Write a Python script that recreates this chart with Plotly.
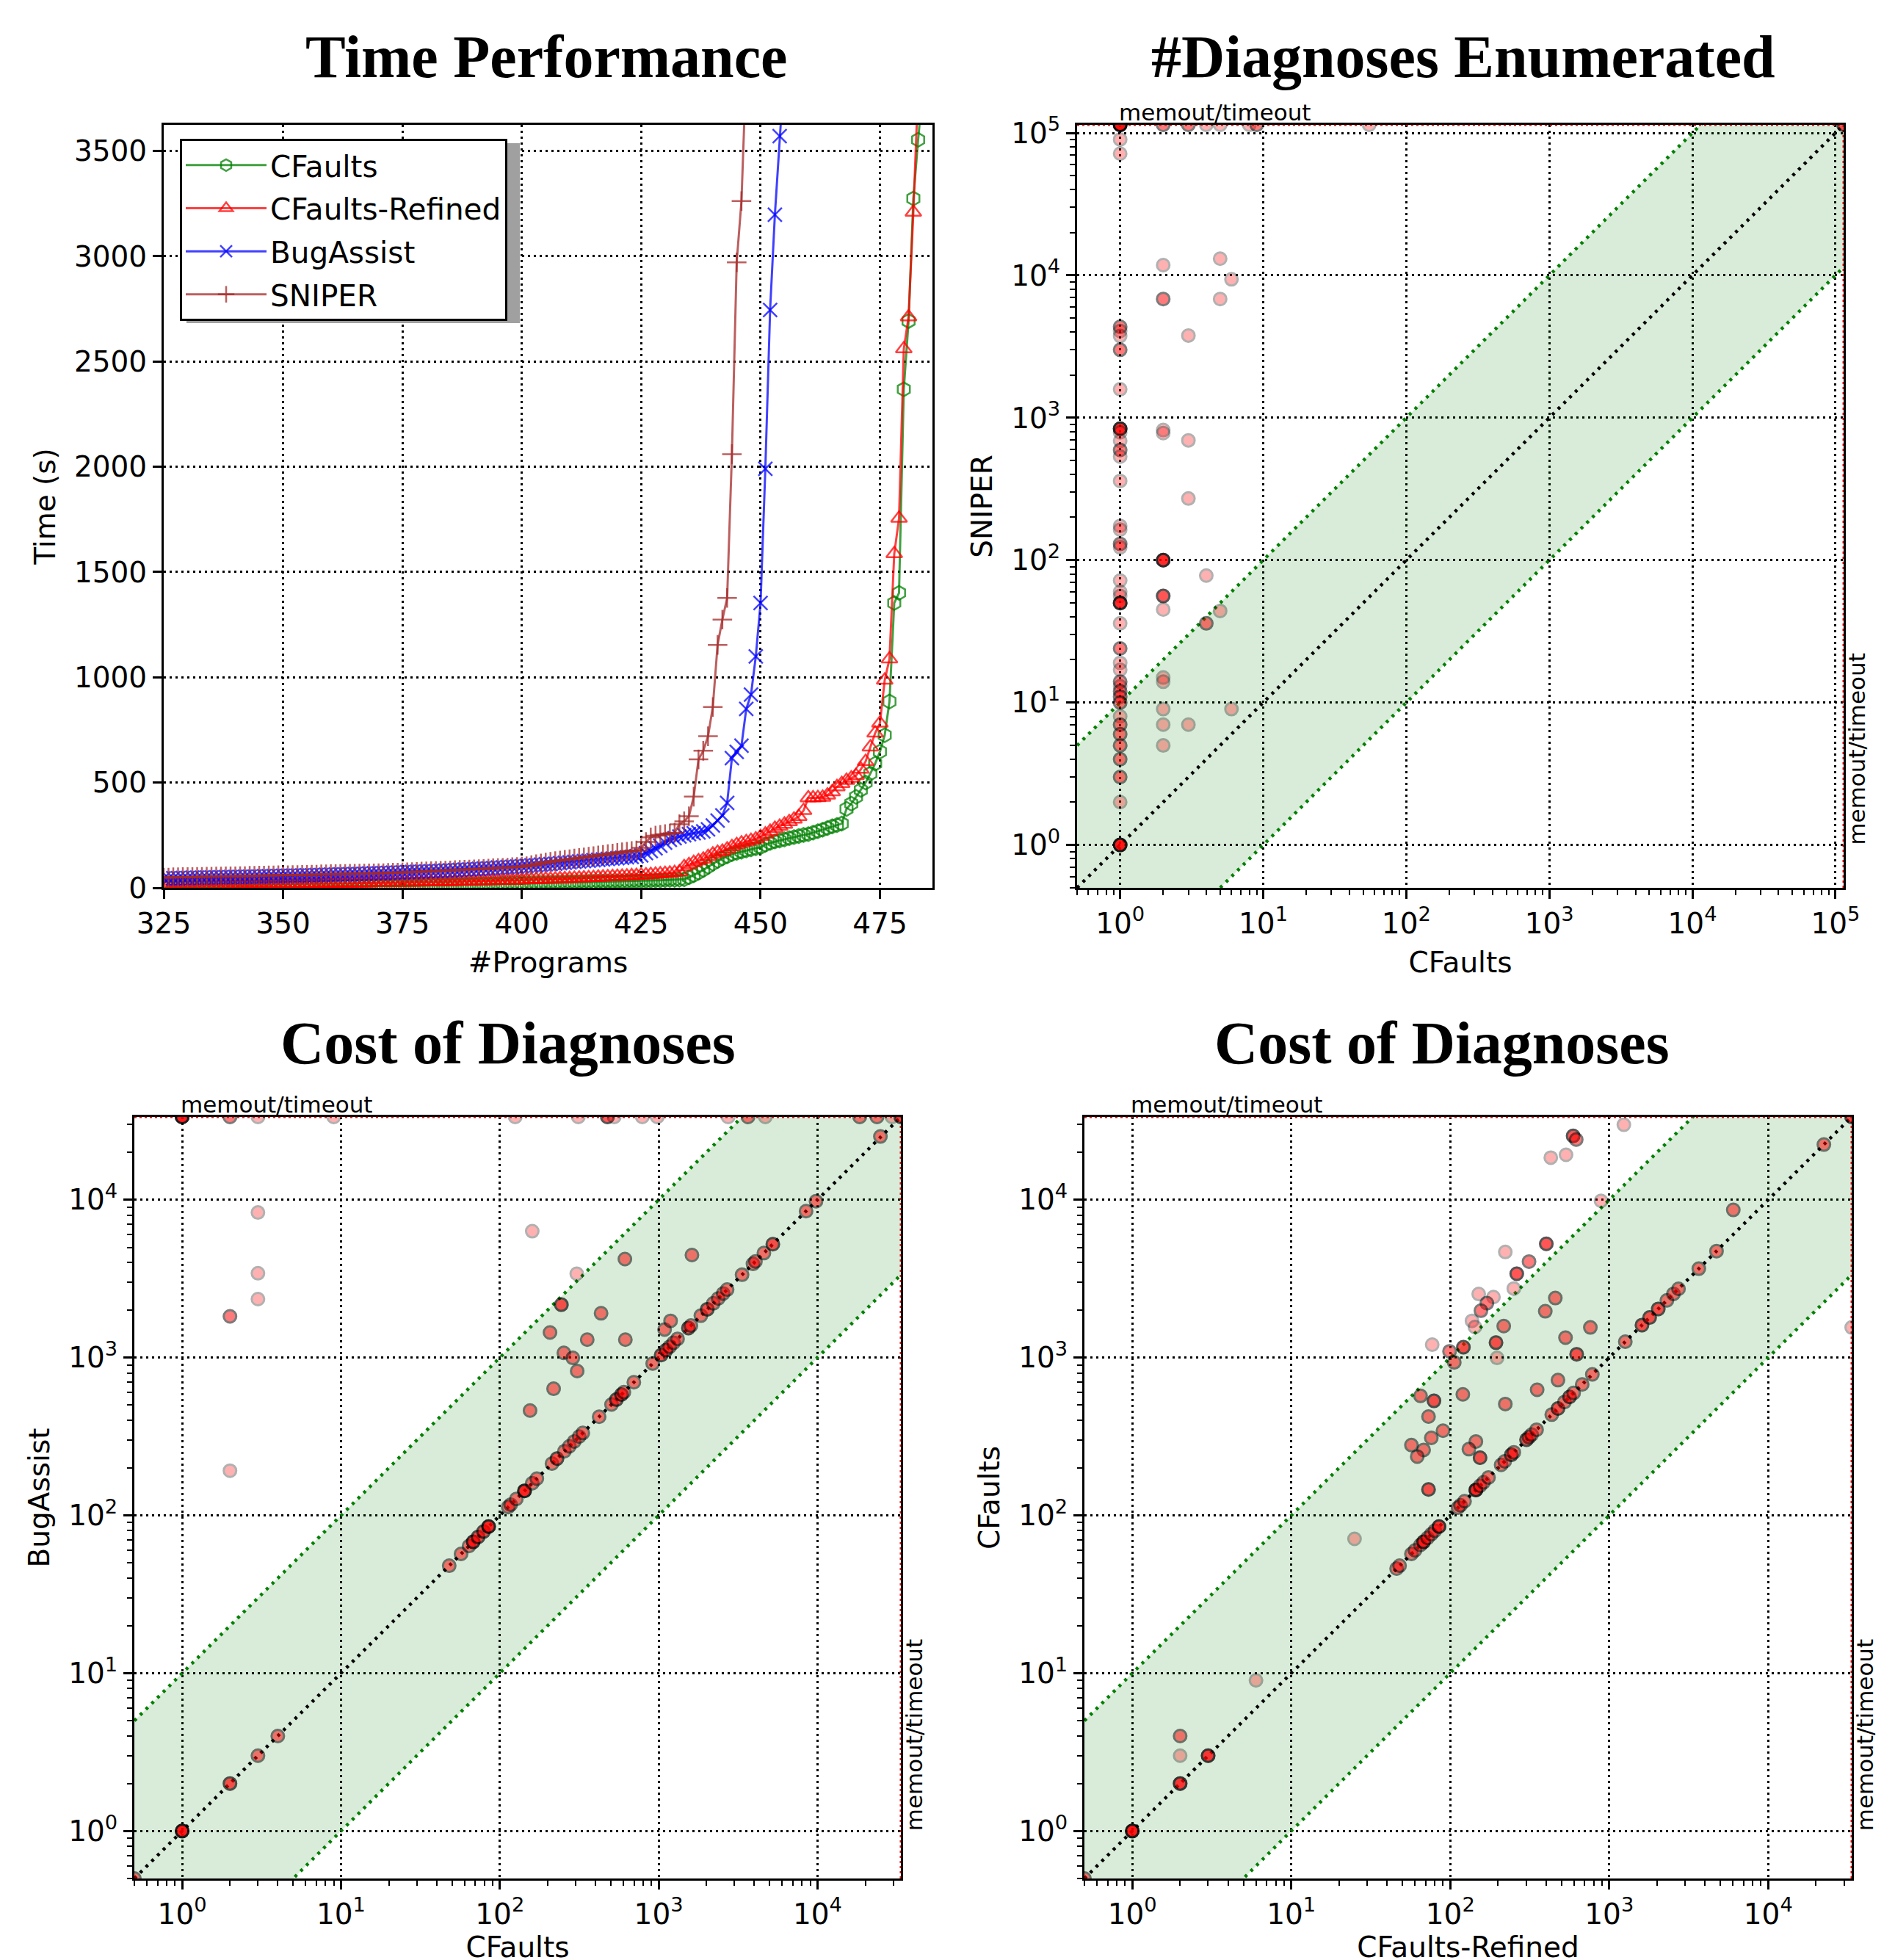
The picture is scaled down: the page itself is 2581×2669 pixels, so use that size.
import math
import numpy as np
import plotly.graph_objects as go

W, H = 2581, 2669
OFF = 8  # page offset of the figure (body margin)

# ---------------------------------------------------------------- time performance (cactus) data
PROGRAM_START = 325
cfaults_time = [
    2, 2, 2, 2, 3, 3, 3, 3, 3, 3,
    4, 4, 4, 4, 4, 4, 5, 5, 5, 5,
    5, 5, 6, 6, 6, 6, 6, 7, 7, 7,
    7, 7, 8, 8, 8, 8, 8, 9, 9, 9,
    9, 9, 9, 10, 10, 10, 10, 10, 11, 11,
    11, 11, 12, 12, 12, 13, 13, 13, 14, 14,
    14, 15, 15, 15, 16, 16, 17, 17, 17, 18,
    18, 19, 19, 20, 20, 21, 21, 22, 22, 23,
    23, 24, 24, 25, 25, 26, 26, 27, 27, 28,
    28, 29, 29, 30, 30, 31, 31, 32, 33, 33,
    34, 34, 35, 36, 36, 37, 38, 38, 39, 41,
    50, 60, 72, 85, 100, 115, 128, 140, 150, 160,
    166, 172, 178, 183, 188, 193, 205, 213, 220, 225,
    230, 236, 241, 246, 251, 255, 262, 269, 276, 284, 292, 298,
    305, 375, 400, 432, 465, 500, 543, 590, 647, 725, 885, 1353, 1401, 2368, 2692, 3274, 3553, 3800,
]
refined_time = [
    14, 14, 15, 15, 15, 15, 15, 16, 16, 16,
    16, 16, 16, 17, 17, 17, 17, 17, 18, 18,
    18, 18, 18, 18, 19, 19, 19, 19, 19, 20,
    20, 20, 20, 21, 21, 21, 21, 22, 22, 22,
    22, 23, 23, 23, 24, 24, 24, 25, 25, 25,
    26, 26, 26, 27, 27, 28, 28, 28, 29, 29,
    30, 30, 31, 31, 32, 32, 33, 33, 34, 34,
    35, 35, 36, 36, 37, 37, 38, 39, 39, 40,
    41, 41, 42, 43, 43, 44, 45, 46, 47, 48,
    49, 50, 51, 52, 53, 54, 55, 56, 57, 58,
    60, 61, 63, 64, 66, 68, 70, 72, 76,
    100, 110, 120, 128, 136, 148, 160, 168, 173, 184,
    195, 205, 213, 219, 225, 232, 243, 255, 268, 282,
    292, 302, 314, 326, 338, 367, 427, 427, 428, 430,
    440, 456, 480, 495, 510, 521, 533, 563, 600, 669,
    735, 782, 986, 1087, 1587, 1755, 2560, 2712, 3209, 3800,
]
bugassist_time = [
    45, 45, 46, 46, 47, 47, 48, 48, 48, 49,
    49, 50, 50, 51, 51, 52, 52, 53, 53, 54,
    54, 55, 55, 56, 56, 57, 57, 58, 58, 59,
    60, 60, 61, 61, 62, 63, 63, 64, 64, 65,
    66, 66, 67, 68, 69, 69, 70, 71, 72, 73,
    74, 75, 75, 76, 77, 78, 79, 80, 81, 82,
    83, 84, 85, 87, 88, 89, 90, 92, 93, 94,
    96, 97, 99, 100, 102, 103, 105, 107, 108, 110,
    112, 113, 115, 117, 119, 121, 123, 125, 127, 129,
    131, 133, 135, 137, 139, 141, 143, 145, 147, 150,
    154, 165, 175, 188, 200, 215, 228, 236, 244, 250,
    255, 259, 263, 268, 278, 296, 320, 344, 403, 616,
    646, 675, 850, 918, 1099, 1353, 1990, 2745, 3197, 3570, 3900,
]
sniper_time = [
    49, 49, 50, 50, 51, 51, 51, 52, 52, 53,
    53, 54, 54, 55, 55, 55, 56, 56, 57, 57,
    58, 58, 59, 59, 60, 60, 60, 61, 61, 62,
    62, 63, 63, 64, 64, 65, 65, 66, 66, 67,
    67, 68, 68, 69, 69, 70, 70, 71, 72, 72,
    73, 74, 75, 76, 77, 78, 79, 80, 81, 82,
    83, 84, 85, 86, 87, 88, 89, 90, 91, 93,
    94, 95, 96, 98, 99, 101, 103, 108, 112, 116,
    120, 124, 127, 130, 133, 136, 139, 142, 145, 148,
    151, 154, 157, 160, 163, 166, 169, 172, 175, 178,
    190, 218, 240, 248, 252, 255, 258, 262, 302, 316,
    340, 433, 610, 651, 720, 859, 1154, 1274, 1377, 2060, 2971, 3262, 3900,
]
time_xticks = [325, 350, 375, 400, 425, 450, 475]
time_yticks = [0, 500, 1000, 1500, 2000, 2500, 3000, 3500]
TIME_XRANGE = [325, 486]
TIME_YRANGE = [0, 3624]

# ---------------------------------------------------------------- #diagnoses: CFaults (x) vs SNIPER (y)
MEMOUT_DIAG = 114000
M1 = MEMOUT_DIAG
diag_cfaults = [1, 1, 1, 1, 1, 1, 1, 1, 1, 1, 1, 1, 1, 1, 1, 1, 1, 1, 1, 1,
                1, 1, 1, 1, 1, 1, 1, 1, 1, 1, 1, 1, 1, 1, 1, 1, 1, 1, 1,
                2, 2, 2, 2, 2, 2, 2, 2, 2, 2, 2, 2, 2,
                3, 3, 3, 3, 3,
                4, 4, 4,
                5, 5, 5, 5,
                6, 6, 8, 9, 55, M1]
diag_sniper = [M1, 90000, 71500, 4350, 4070, 3750, 3000, 1585, 838, 790, 688, 594, 534, 360, 174, 164, 130, 123, 72, 60,
               56, 50, 36, 24, 19, 17, 14, 13, 12, 11, 10, 8, 7, 6, 5, 4, 3, 2, 1,
               M1, 11800, 6820, 820, 780, 100, 56, 45, 15, 14, 9, 7, 5,
               M1, 3780, 694, 271, 7,
               M1, 78, 36,
               M1, 13100, 6820, 44,
               9380, 9, M1, M1, M1, M1]
diag_count = [8, 1, 1, 2, 1, 1, 2, 1, 5, 1, 1, 2, 1, 1, 1, 1, 2, 1, 1, 1,
              1, 5, 1, 2, 1, 1, 2, 1, 2, 2, 2, 1, 2, 2, 2, 2, 2, 1, 6,
              2, 1, 2, 1, 1, 5, 3, 1, 1, 1, 1, 1, 1,
              2, 1, 1, 1, 1,
              1, 1, 2,
              1, 1, 1, 1,
              1, 1, 1, 2, 1, 3]

# ---------------------------------------------------------------- cost: CFaults (x) vs BugAssist (y)
MEMOUT_COST = 33500
M2 = MEMOUT_COST
costA_cfaults = [1, 2, 3, 9, 125, 312, 476, 525, 789, 980, 2738, 3652, 4695, 18440, 23700, 29500, M2,
                 2, 2, 3, 3, 3, 0.5, 1, 2, 3, 4,
                 160, 613, 1620, 305, 244, 434, 207, 355, 617, 253, 288, 307, 218, 155, 1090, 1189,
                 48, 57, 64, 68, 73, 79, 85, 113, 117, 127, 143, 160, 171, 213, 229, 255, 274, 294, 316, 333,
                 422, 505, 542, 583, 604, 698, 917, 1037, 1114, 1172, 1241, 1315, 1540, 1596, 1844, 2024,
                 2207, 2371, 2548, 2698, 3350, 3926, 4067, 4598, 5235, 8475, 9790, 24900]
costA_bugassist = [M2, M2, M2, M2, M2, M2, M2, M2, M2, M2, M2, M2, M2, M2, M2, M2, M2,
                   1827, 192, 8310, 3425, 2350, 0.5, 1, 2, 3, 4,
                   6325, 4210, 4470, 3400, 2165, 1910, 1442, 1300, 1300, 1072, 996, 822, 635, 462, 1507, 1710,
                   48, 57, 64, 68, 73, 79, 85, 113, 117, 127, 143, 160, 171, 213, 229, 255, 274, 294, 316, 333,
                   422, 505, 542, 583, 604, 698, 917, 1037, 1114, 1172, 1241, 1315, 1540, 1596, 1844, 2024,
                   2207, 2371, 2548, 2698, 3350, 3926, 4067, 4598, 5235, 8475, 9790, 25200]
costA_count = [6, 2, 1, 1, 1, 1, 3, 1, 1, 1, 1, 2, 1, 2, 2, 1, 3,
               2, 1, 1, 1, 1, 2, 6, 3, 2, 2,
               1, 2, 2, 1, 3, 2, 2, 2, 2, 2, 2, 2, 2, 2, 2, 2,
               2, 2, 2, 4, 3, 3, 5, 2, 2, 2, 5, 2, 2, 2, 3, 2, 2, 2, 2, 2,
               2, 2, 3, 3, 2, 2, 2, 3, 3, 2, 2, 2, 3, 2, 2, 3,
               2, 2, 2, 2, 2, 2, 2, 2, 3, 2, 2, 2]

# ---------------------------------------------------------------- cost: CFaults-Refined (x) vs CFaults (y)
costB_refined = [1, 2, 3, 2, 2, 6, 0.5, 25,
                 46, 48, 57, 60, 65, 68, 72, 76, 80, 85, 112, 116, 123, 145, 154, 162, 174, 209, 220, 242, 251,
                 302, 313, 325, 349, 435, 476, 523, 563, 597, 676, 783, 1262, 1607, 1795, 2034, 2305, 2535, 2728,
                 3660, 4730, 22400, M2,
                 1236, 593, 620, 429, 535, 888, 6030, 402, 222, 313, 262, 251, 151, 187, 170, 156, 458, 396,
                 137, 143, 217, 761, 531, 194, 121, 77, 99, 106, 197, 624, 476, 352, 65, 79, 120, 222, 73, 90,
                 76, 57, 68, 62, 145, 131, 154, 73, M2]
costB_cfaults = [1, 2, 3, 4, 3, 9, 0.5, 71,
                 46, 48, 57, 60, 65, 68, 72, 76, 80, 85, 112, 116, 123, 145, 154, 162, 174, 209, 220, 242, 251,
                 302, 313, 325, 349, 435, 476, 523, 563, 597, 676, 783, 1262, 1607, 1795, 2034, 2305, 2535, 2728,
                 3660, 4730, 22400, M2,
                 29900, 25400, 24100, 18500, 19300, 9850, 8630, 5260, 4670, 4060, 3400, 2740, 2530, 2420, 2213,
                 1983, 2384, 1967, 1710, 1564, 1585, 1553, 1338, 1244, 1164, 1208, 1096, 933, 996, 1050, 720, 625,
                 572, 532, 585, 508, 423, 344, 310, 279, 260, 236, 294, 263, 232, 146, 1553]
costB_count = [6, 4, 4, 2, 1, 1, 2, 1,
               2, 2, 2, 2, 2, 4, 2, 2, 2, 4, 2, 2, 2, 5, 2, 2, 2, 2, 2, 3, 2,
               3, 2, 2, 2, 2, 3, 2, 3, 2, 2, 2, 2, 3, 3, 3, 2, 2, 2,
               2, 2, 2, 3,
               1, 3, 2, 1, 1, 1, 2, 3, 1, 2, 3, 1, 1, 1, 2, 2, 2, 2,
               1, 1, 2, 2, 2, 3, 3, 1, 2, 2, 1, 3, 2, 2, 2, 3, 2, 2, 2, 2,
               2, 2, 2, 2, 2, 2, 3, 3, 1]

LOW_LIMIT = 0.5
BAND = 10

FONT = "DejaVu Sans"
TITLE_FONT = "Liberation Serif"


def px(p):
    return (p - OFF) / W


def py(p):
    return 1 - (p - OFF) / H


def sup(k):
    return "10<sup>%d</sup>" % k


fig = go.Figure()

# ---------------------------------------------------------------- time performance
series = [
    ("CFaults", cfaults_time, "rgba(0,128,0,0.75)", "hexagon-open"),
    ("CFaults-Refined", refined_time, "rgba(255,0,0,0.75)", "triangle-up-open"),
    ("BugAssist", bugassist_time, "rgba(0,0,255,0.75)", "x-thin"),
    ("SNIPER", sniper_time, "rgba(165,42,42,0.75)", "cross-thin"),
]
for name, vals, col, sym in series:
    xs = list(range(PROGRAM_START, PROGRAM_START + len(vals)))
    fig.add_trace(go.Scatter(
        x=xs, y=vals, mode="lines+markers", name=name, legendgroup=name,
        line=dict(color=col, width=3),
        marker=dict(symbol=sym, size=19, color=col, line=dict(color=col, width=2.5)),
        xaxis="x", yaxis="y", hoverinfo="skip"))


def scatter_panel(xa, ya, memout, xs, ys, ns):
    lo, hi = LOW_LIMIT, memout
    common = dict(xaxis=xa, yaxis=ya, showlegend=False, hoverinfo="skip", mode="lines")
    green_dot = dict(color="rgb(0,128,0)", width=4.5, dash="4px,7px")
    fig.add_trace(go.Scatter(x=[lo, hi], y=[lo / BAND, hi / BAND], line=green_dot, **common))
    fig.add_trace(go.Scatter(x=[lo, hi], y=[lo * BAND, hi * BAND], line=green_dot,
                             fill="tonexty", fillcolor="rgba(0,128,0,0.15)", **common))
    fig.add_trace(go.Scatter(x=[lo, hi], y=[lo, hi],
                             line=dict(color="black", width=4.5, dash="4px,7px"), **common))
    red_dot = dict(color="red", width=3, dash="3px,4px")
    fig.add_trace(go.Scatter(x=[lo, hi], y=[hi, hi], line=red_dot, **common))
    fig.add_trace(go.Scatter(x=[hi, hi], y=[lo, hi], line=red_dot, **common))
    px_ = np.repeat(np.array(xs, dtype=float), ns)
    py_ = np.repeat(np.array(ys, dtype=float), ns)
    fig.add_trace(go.Scatter(
        x=px_, y=py_, mode="markers", xaxis=xa, yaxis=ya, showlegend=False, hoverinfo="skip",
        marker=dict(size=17, color="red", opacity=0.3, line=dict(color="black", width=3))))


scatter_panel("x2", "y2", MEMOUT_DIAG, diag_cfaults, diag_sniper, diag_count)
scatter_panel("x3", "y3", MEMOUT_COST, costA_cfaults, costA_bugassist, costA_count)
scatter_panel("x4", "y4", MEMOUT_COST, costB_refined, costB_cfaults, costB_count)

# ---------------------------------------------------------------- axes
base = dict(showline=True, linecolor="black", linewidth=3, mirror=True, automargin=False,
            ticks="outside", ticklen=12, tickwidth=2.5, tickcolor="black",
            showgrid=True, gridcolor="black", gridwidth=2.5, griddash="3px,5px",
            zeroline=False, tickfont=dict(family=FONT, size=39, color="black"),
            title_font=dict(family=FONT, size=39, color="black"))


def log_axis(memout, max_dec, title, domain, anchor, standoff):
    decs = list(range(0, max_dec + 1))
    minors = [m * 10 ** k for k in range(-1, max_dec + 1) for m in range(2, 10)
              if LOW_LIMIT <= m * 10 ** k <= memout]
    return dict(base, type="log", range=[math.log10(LOW_LIMIT), math.log10(memout)],
                tickmode="array", tickvals=[10 ** k for k in decs], ticktext=[sup(k) for k in decs],
                minor=dict(tickmode="array", tickvals=minors, ticks="outside", ticklen=7,
                           tickwidth=2, tickcolor="black", showgrid=False),
                domain=domain, anchor=anchor,
                title=dict(text=title, standoff=standoff))


TOP = [py(1209), py(170)]
BOT = [py(2558), py(1521)]

fig.update_layout(
    template="none",
    xaxis=dict(base, range=TIME_XRANGE, tickmode="array", tickvals=time_xticks,
               domain=[px(223), px(1270)], anchor="y", title=dict(text="#Programs", standoff=18)),
    yaxis=dict(base, range=TIME_YRANGE, tickmode="array", tickvals=time_yticks,
               domain=TOP, anchor="x", title=dict(text="Time (s)", standoff=14)),
    xaxis2=log_axis(MEMOUT_DIAG, 5, "CFaults", [px(1467), px(2511)], "y2", 18),
    yaxis2=log_axis(MEMOUT_DIAG, 5, "SNIPER", TOP, "x2", 14),
    xaxis3=log_axis(MEMOUT_COST, 4, "CFaults", [px(183), px(1227)], "y3", 3),
    yaxis3=log_axis(MEMOUT_COST, 4, "BugAssist", BOT, "x3", 14),
    xaxis4=log_axis(MEMOUT_COST, 4, "CFaults-Refined", [px(1477), px(2522)], "y4", 3),
    yaxis4=log_axis(MEMOUT_COST, 4, "CFaults", BOT, "x4", 14),
)

# ---------------------------------------------------------------- annotations
annotations = []
titles = [("Time Performance", 744, 77),
          ("#Diagnoses Enumerated", 1993, 77),
          ("Cost of Diagnoses", 692, 1420),
          ("Cost of Diagnoses", 1964, 1420)]
for txt, x, y in titles:
    annotations.append(dict(text="<b>%s</b>" % txt, x=px(x), y=py(y), xref="paper", yref="paper",
                            xanchor="center", yanchor="middle", showarrow=False,
                            font=dict(family=TITLE_FONT, size=82, color="black")))
for xa, ya, memout in [("x2", "y2", MEMOUT_DIAG), ("x3", "y3", MEMOUT_COST), ("x4", "y4", MEMOUT_COST)]:
    f = dict(family=FONT, size=31, color="black")
    annotations.append(dict(text="memout/timeout", x=0, y=math.log10(memout), xref=xa, yref=ya,
                            xanchor="left", yanchor="bottom", showarrow=False, font=f, xshift=-4, yshift=-3))
    annotations.append(dict(text="memout/timeout", x=math.log10(memout), y=0, xref=xa, yref=ya,
                            xanchor="left", yanchor="bottom", textangle=-90, showarrow=False, font=f,
                            xshift=-2, yshift=-2))

# legend shadow
shapes = [dict(type="rect", xref="paper", yref="paper",
               x0=px(254), x1=px(708), y0=py(440), y1=py(195),
               fillcolor="rgb(160,160,160)", line=dict(width=0), layer="above")]

fig.update_layout(
    width=W, height=H, margin=dict(l=0, r=0, t=0, b=0),
    paper_bgcolor="white", plot_bgcolor="white",
    annotations=annotations, shapes=shapes,
    showlegend=True,
    legend=dict(x=px(245), y=py(189), xanchor="left", yanchor="top",
                bgcolor="white", bordercolor="black", borderwidth=3,
                font=dict(family=FONT, size=40.5, color="black"),
                itemwidth=110, tracegroupgap=3, traceorder="grouped"),
)

fig.write_html("out.html")
